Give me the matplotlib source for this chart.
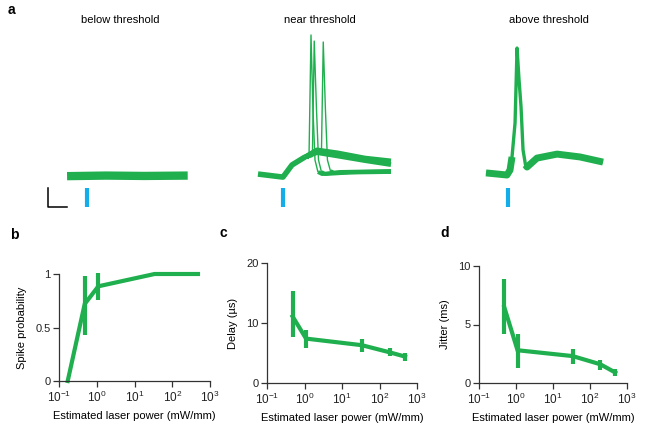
import numpy as np
import matplotlib
matplotlib.use('Agg')
import matplotlib.pyplot as plt

plt.rcParams['font.family'] = ['Liberation Sans', 'DejaVu Sans']
plt.rcParams['mathtext.fontset'] = 'custom'
plt.rcParams['mathtext.rm'] = 'Liberation Sans'
plt.rcParams['mathtext.it'] = 'Liberation Sans:italic'
plt.rcParams['font.size'] = 8

GREEN = '#1FAF4E'
BLUE = '#13AEEA'
AXC = '#333333'

# ---------------------------------------------------------
# data: panel a traces (ms relative to light pulse, mV)
# ---------------------------------------------------------
titles_a = ['below threshold', 'near threshold', 'above threshold']

below_t = [-21, 20, 60, 106]
below_v = [-65.6, -65.3, -65.5, -65.3]

near_pre_t = [-26.3, 0, 9.5, 23.2]
near_pre_v = [-64.5, -66.1, -59.7, -55.5]
# two sweeps without spike
near_sub_t = [23.2, 35.8, 57.9, 86.3, 113.7]
near_sub_a = [-55.5, -51.8, -53.4, -56.1, -57.6]
near_sub_b = [-55.5, -53.2, -55.0, -57.4, -59.5]
# three sweeps with spike
spike1_t = [23.2, 27.4, 29.5, 31.6, 33.7, 36.8]
spike1_v = [-55.5, -55.5, 8.7, -30.8, -57.1, -63.4]
spike2_t = [23.2, 31.0, 32.9, 35.3, 37.4, 40.5]
spike2_v = [-55.5, -54.5, 5.5, -30.8, -57.1, -63.4]
spike3_t = [23.2, 35.8, 40.5, 42.4, 44.7, 46.8, 50.0]
spike3_v = [-55.5, -51.8, -52.9, 5.0, -30.8, -57.1, -62.9]
post1_t = [36.8, 41.1, 60, 113.7]
post1_v = [-63.4, -64.5, -63.4, -62.9]
post2_t = [40.5, 44.2, 70.5, 113.7]
post2_v = [-63.4, -64.5, -63.7, -63.4]
post3_t = [50.0, 53.7, 81, 113.7]
post3_v = [-62.9, -63.9, -63.4, -63.2]

above_t = [-23.2, -1.1, 2.1, 4.2, 7.4, 9.5, 11.6, 13.7, 15.8, 18.4, 20, 30.5, 51.6, 75.8, 100]
above_v = [-63.9, -65, -62.4, -55.5, -37.6, 1.8, -15, -29.2, -51.8, -59.7, -60.8, -56.1, -54, -55.5, -58.2]

# ---------------------------------------------------------
# data: panels b-d
# ---------------------------------------------------------
power_b = [0.17, 0.48, 1.1, 34, 480]
spike_prob = [0, 0.72, 0.885, 1, 1]
prob_lo = [np.nan, 0.43, 0.76, np.nan, np.nan]
prob_hi = [np.nan, 0.98, 1.01, np.nan, np.nan]

power = [0.48, 1.1, 34, 190, 480]
delay = [11.1, 7.4, 6.3, 5.1, 4.4]
delay_lo = [7.6, 5.9, 5.2, 4.5, 3.7]
delay_hi = [15.3, 8.9, 7.4, 5.8, 5.0]
jitter = [6.5, 2.8, 2.3, 1.6, 0.9]
jitter_lo = [4.2, 1.3, 1.6, 1.1, 0.6]
jitter_hi = [8.9, 4.2, 2.9, 2.0, 1.2]

W, H = 645, 426
fig = plt.figure(figsize=(W / 100, H / 100), dpi=100)


def px_axes(x0, y_top, x1, y_bot):
    return fig.add_axes([x0 / W, 1 - y_bot / H, (x1 - x0) / W, (y_bot - y_top) / H])


# =========================================================
# panel a
# =========================================================
ax = px_axes(30, 25, 630, 215)
ax.set_xlim(0, 631.6)
ax.set_ylim(-86.05, 13.95)
ax.axis('off')

offsets = [60.0, 266.3, 503.2]   # sweep positions (ms)
title_x = [120, 320, 549]


def trace(t, v, off, lw):
    ax.plot(np.array(t) + off, v, color=GREEN, lw=lw, solid_joinstyle='round',
            solid_capstyle='butt')


# below threshold
trace(below_t, below_v, offsets[0], 6)

# near threshold
o = offsets[1]
trace(near_pre_t, near_pre_v, o, 4.0)
trace(near_sub_t, near_sub_a, o, 3.5)
trace(near_sub_t, near_sub_b, o, 3.5)
for st, sv, pt, pv in [(spike1_t, spike1_v, post1_t, post1_v),
                       (spike2_t, spike2_v, post2_t, post2_v),
                       (spike3_t, spike3_v, post3_t, post3_v)]:
    trace(st, sv, o, 1.0)
    trace(st[:2], sv[:2], o, 3.0)
    trace(pt, pv, o, 2.8)

# above threshold
o = offsets[2]
trace(above_t, above_v, o, 2.4)
trace(above_t[:4], above_v[:4], o, 5)
trace(above_t[9:], above_v[9:], o, 5)

# light pulses
for off in offsets:
    ax.plot([off, off], [-81.8, -71.8], color=BLUE, lw=3, solid_capstyle='butt')

# scale bar (20 ms, 10 mV)
ax.plot([18.9, 18.9, 38.9], [-71.8, -81.8, -81.8], color='black', lw=1.1)

for tx, s in zip(title_x, titles_a):
    fig.text(tx / W, 1 - 20 / H, s, ha='center', va='center', fontsize=8)

fig.text(8 / W, 1 - 10 / H, 'a', fontsize=10, fontweight='bold', va='center', ha='left')


# =========================================================
# panels b-d
# =========================================================
def style(ax, ylim, yticks, yticklabels, ylabel):
    ax.set_xscale('log')
    ax.set_xlim(0.1, 1000)
    ax.set_xticks([0.1, 1, 10, 100, 1000])
    ax.set_xticklabels([r'$10^{-1}$', r'$10^{0}$', r'$10^{1}$', r'$10^{2}$', r'$10^{3}$'])
    ax.minorticks_off()
    ax.set_ylim(*ylim)
    ax.set_yticks(yticks)
    ax.set_yticklabels(yticklabels)
    for s in ['top', 'right']:
        ax.spines[s].set_visible(False)
    for s in ['left', 'bottom']:
        ax.spines[s].set_color(AXC)
        ax.spines[s].set_linewidth(0.9)
    ax.tick_params(direction='out', length=4, width=0.9, color=AXC, pad=2, labelsize=8,
                   labelcolor='#222222')
    ax.tick_params(axis='x', labelsize=8.5)
    ax.set_xlabel('Estimated laser power (mW/mm)', fontsize=8, labelpad=5)
    ax.set_ylabel(ylabel, fontsize=8, labelpad=6)
    ax.patch.set_alpha(0)


def errbars(ax, x, lo, hi):
    x = np.array(x, dtype=float)
    lo = np.array(lo, dtype=float)
    hi = np.array(hi, dtype=float)
    m = ~np.isnan(lo)
    ax.vlines(x[m], lo[m], hi[m], color=GREEN, lw=3, clip_on=False)


# b
axb = px_axes(59, 274, 210, 381)
axb.plot(power_b, spike_prob, color=GREEN, lw=3, clip_on=False, solid_joinstyle='miter')
errbars(axb, power_b, prob_lo, prob_hi)
style(axb, (0, 1), [0, 0.5, 1], ['0', '0.5', '1'], 'Spike probability')

# c
axc = px_axes(267, 263, 417, 383)
axc.plot(power, delay, color=GREEN, lw=3, clip_on=False, solid_joinstyle='miter')
errbars(axc, power, delay_lo, delay_hi)
style(axc, (0, 20), [0, 10, 20], ['0', '10', '20'], 'Delay (µs)')

# d
axd = px_axes(479, 266, 627, 383)
axd.plot(power, jitter, color=GREEN, lw=3, clip_on=False, solid_joinstyle='miter')
errbars(axd, power, jitter_lo, jitter_hi)
style(axd, (0, 10), [0, 5, 10], ['0', '5', '10'], 'Jitter (ms)')

for x, y, s in [(10, 235, 'b'), (220, 233, 'c'), (440, 233, 'd')]:
    fig.text(x / W, 1 - y / H, s, fontsize=10, fontweight='bold', va='center', ha='left')

fig.savefig('out.png', dpi=100)
